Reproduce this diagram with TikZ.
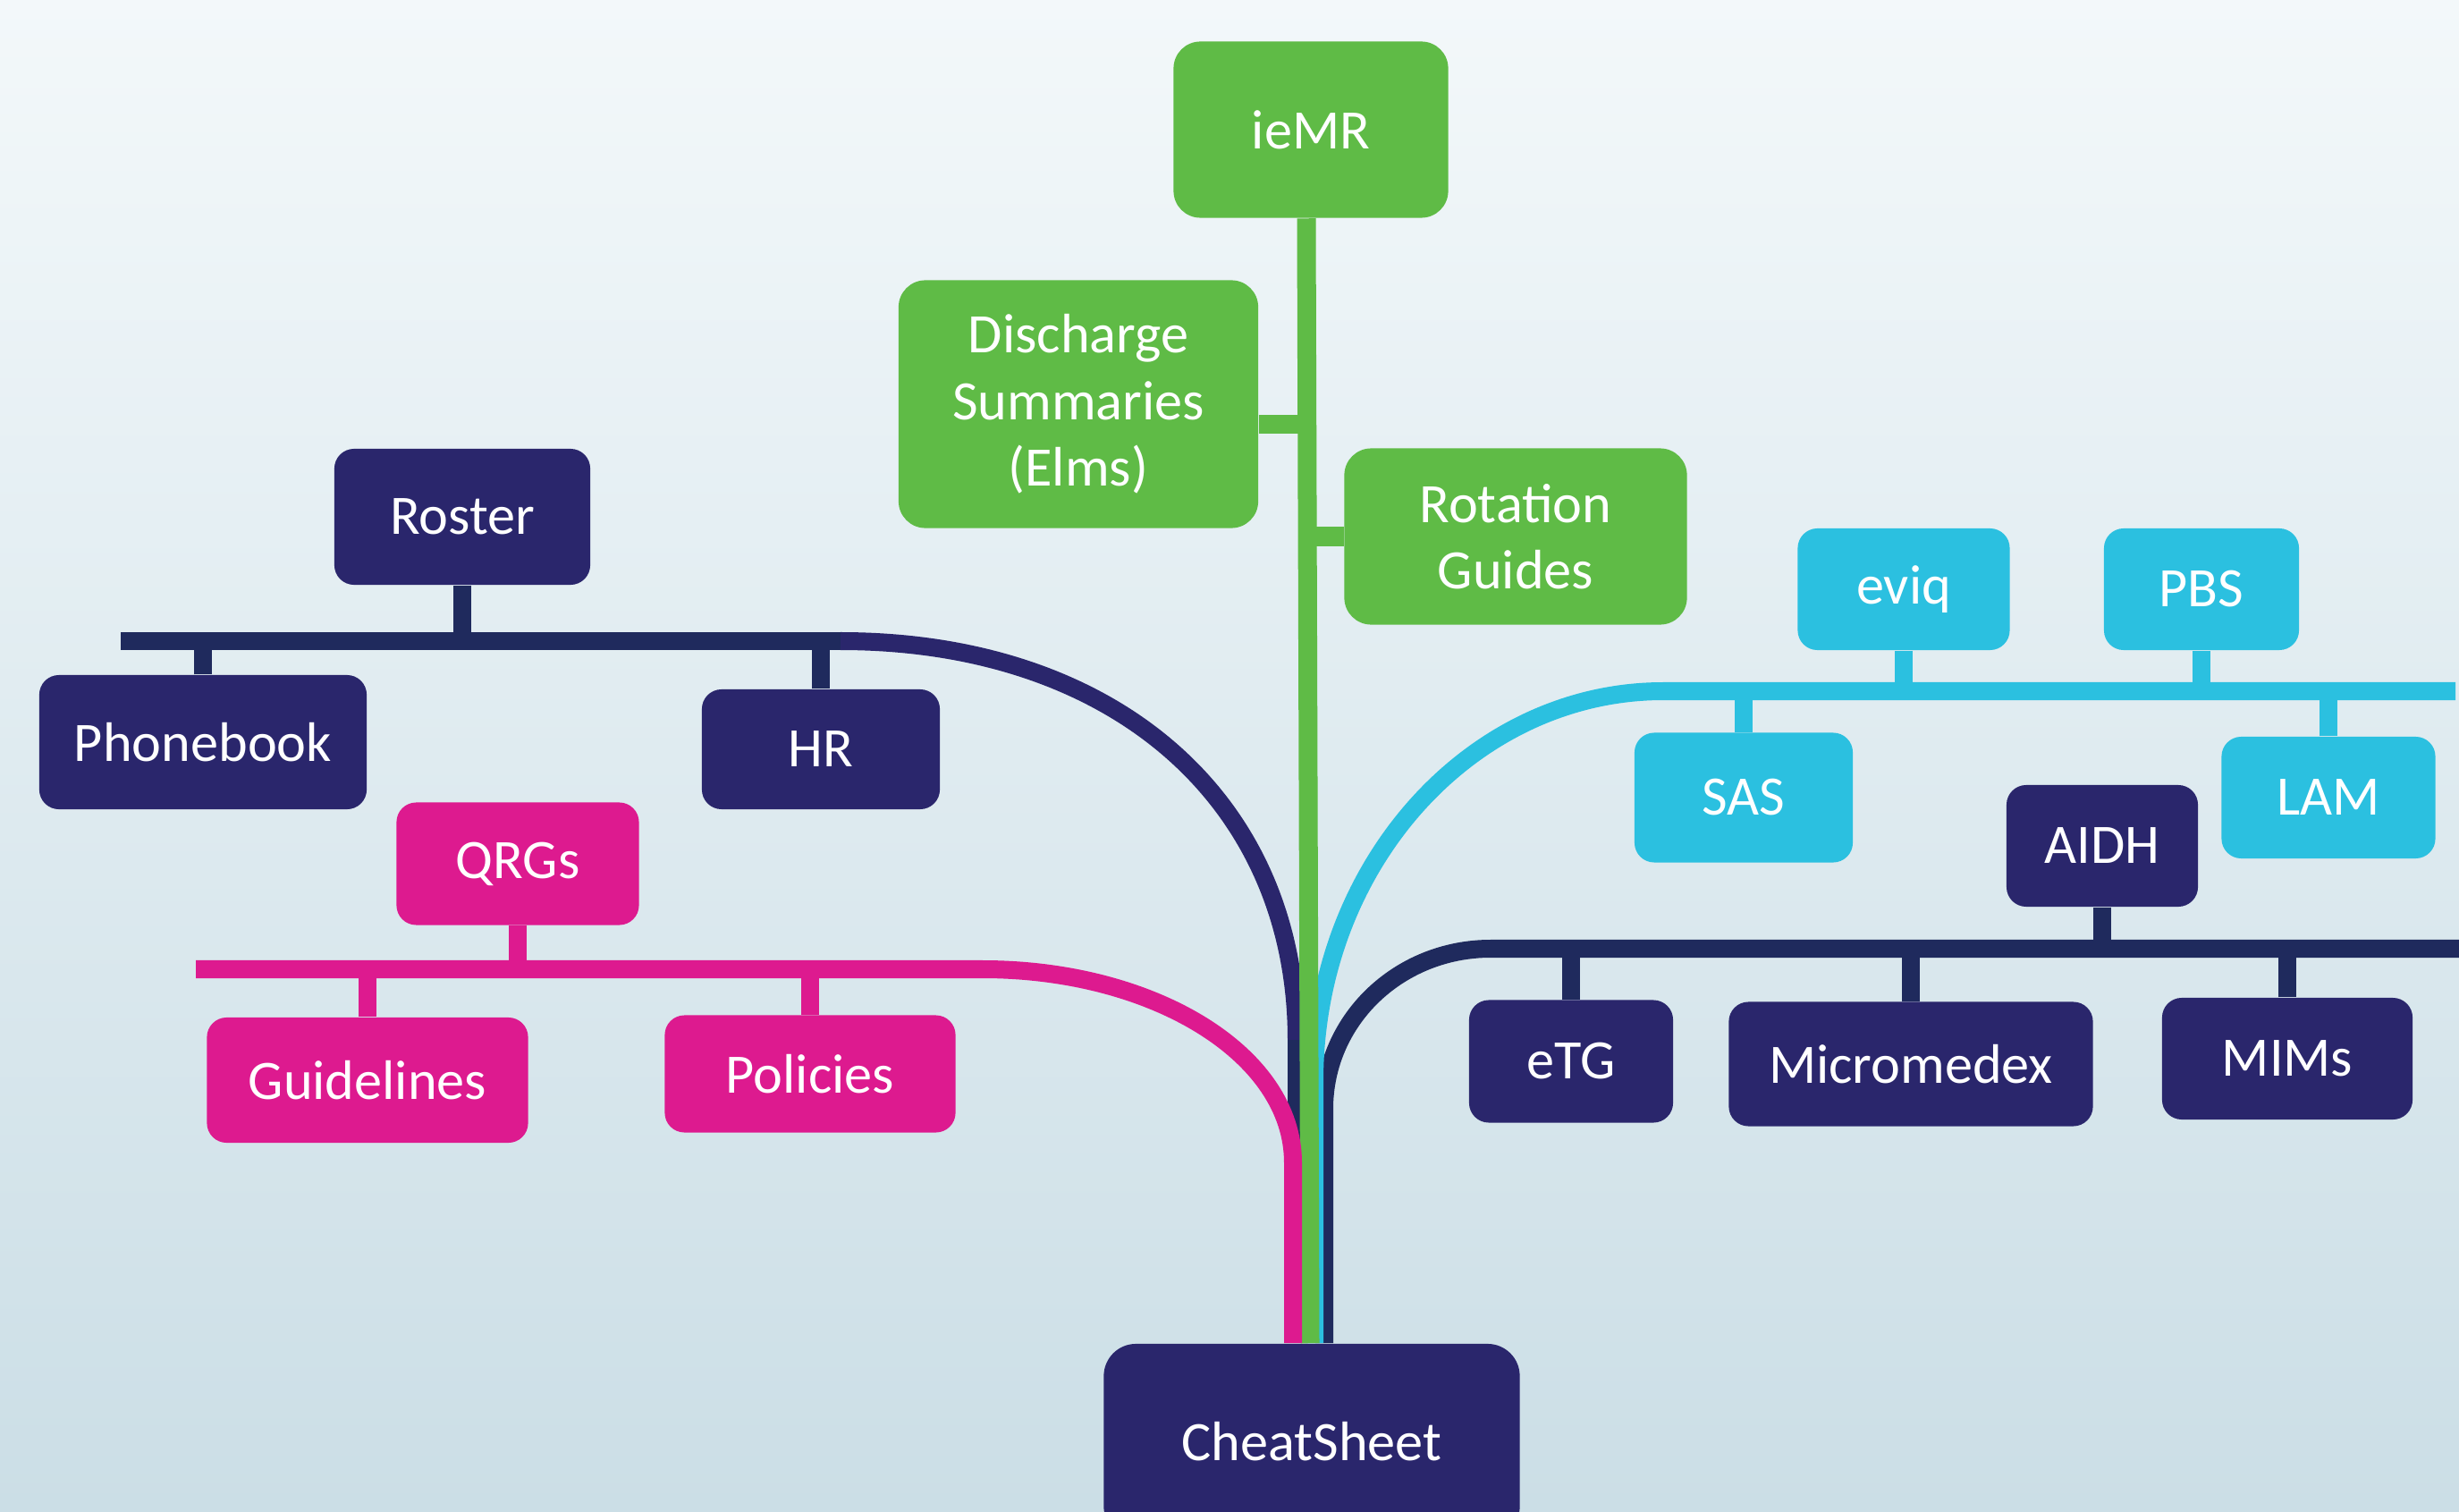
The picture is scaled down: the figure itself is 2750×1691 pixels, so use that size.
\documentclass[tikz,border=0pt]{standalone}
\usepackage{fontspec}
\setmainfont{Carlito}
\usepackage{tikz}
\usetikzlibrary{arrows,shapes}
\definecolor{cNavy}{HTML}{2A266C}
\definecolor{cNavyLine}{HTML}{1F2A5D}
\definecolor{cGreen}{HTML}{5FBB46}
\definecolor{cCyan}{HTML}{2BC0E0}
\definecolor{cPink}{HTML}{DD1A8F}
\definecolor{cBgTop}{HTML}{F3F8FA}
\definecolor{cBgBot}{HTML}{CBDEE6}

\begin{document}
\begin{tikzpicture}[x=0.01cm,y=-0.01cm,
  box/.style={rounded corners=0.22cm,inner sep=0pt,text=white,align=center,font=\fontsize{17.7}{21.2}\selectfont},
  navybox/.style={box,fill=cNavy},
  greenbox/.style={box,fill=cGreen,rounded corners=0.3cm},
  cyanbox/.style={box,fill=cCyan},
  pinkbox/.style={box,fill=cPink},
  navybar/.style={draw=cNavyLine,line width=0.2cm},
  greenbar/.style={draw=cGreen,line width=0.21cm},
  cyanbar/.style={draw=cCyan,line width=0.2cm},
  pinkbar/.style={draw=cPink,line width=0.2cm}]
\clip (0,0) rectangle (2750,1691);
\shade[top color=cBgTop,bottom color=cBgBot] (0,0) rectangle (2750,1691);

\node (ieMR) at (1466,145)[greenbox,minimum width=3.07cm,minimum height=1.97cm] {ieMR};
\node (Discharge) at (1206,452)[greenbox,minimum width=4.02cm,minimum height=2.77cm] {Discharge\\Summaries\\(Elms)};
\node (Rotation) at (1695,600)[greenbox,minimum width=3.83cm,minimum height=1.97cm] {Rotation\\Guides};
\node (Roster) at (517,578)[navybox,minimum width=2.86cm,minimum height=1.52cm] {Roster};
\node (Phonebook) at (227,830)[navybox,minimum width=3.66cm,minimum height=1.5cm] {Phonebook};
\node (HR) at (918,838)[navybox,minimum width=2.66cm,minimum height=1.34cm] {HR};
\node (QRGs) at (579,966)[pinkbox,minimum width=2.71cm,minimum height=1.37cm] {QRGs};
\node (Guidelines) at (411,1208)[pinkbox,minimum width=3.59cm,minimum height=1.4cm] {Guidelines};
\node (Policies) at (906,1201)[pinkbox,minimum width=3.25cm,minimum height=1.31cm] {Policies};
\node (eviq) at (2129,659)[cyanbox,minimum width=2.37cm,minimum height=1.36cm] {eviq};
\node (PBS) at (2462,659)[cyanbox,minimum width=2.18cm,minimum height=1.36cm] {PBS};
\node (SAS) at (1950,892)[cyanbox,minimum width=2.44cm,minimum height=1.45cm] {SAS};
\node (LAM) at (2604,892)[cyanbox,minimum width=2.39cm,minimum height=1.36cm] {LAM};
\node (AIDH) at (2351,946)[navybox,minimum width=2.14cm,minimum height=1.36cm] {AIDH};
\node (eTG) at (1757,1187)[navybox,minimum width=2.28cm,minimum height=1.37cm] {eTG};
\node (Micromedex) at (2137,1190)[navybox,minimum width=4.07cm,minimum height=1.39cm] {Micromedex};
\node (MIMs) at (2558,1184)[navybox,minimum width=2.8cm,minimum height=1.36cm] {MIMs};
\node (CheatSheet) at (1467,1612)[navybox,rounded corners=0.36cm,minimum width=4.65cm,minimum height=2.18cm] {CheatSheet};

\coordinate (navyL) at (135,717);
\coordinate (navyM) at (940,717);
\coordinate (navyD) at (1450,1163);
\coordinate (pinkL) at (219,1084);
\coordinate (pinkM) at (1099,1084);
\coordinate (pinkD) at (1446,1300);
\coordinate (cyanR) at (2746,773);
\coordinate (cyanM) at (1860,773);
\coordinate (cyanD) at (1470,1209);
\coordinate (navyR) at (2750,1061);
\coordinate (navyN) at (1667,1061);
\coordinate (navyE) at (1481,1240);
\coordinate (dsStub) at ([yshift=-0.22cm]Discharge.east);

\draw[navybar] (Roster.south) -- (Roster.south |- navyL);
\draw[navybar] (Phonebook.north) -- (Phonebook.north |- navyL);
\draw[navybar] (HR.north) -- (HR.north |- navyL);
\draw[navybar] (navyL) -- (navyM);
\draw[navybar,draw=cNavy] (navyM) .. controls (1246,717) and (1450,895) .. (navyD);
\draw[navybar] (navyD) -- (navyD |- CheatSheet.north);

\draw[navybar] (AIDH.south) -- (AIDH.south |- navyR);
\draw[navybar] (eTG.north) -- (eTG.north |- navyR);
\draw[navybar] (Micromedex.north) -- (Micromedex.north |- navyR);
\draw[navybar] (MIMs.north) -- (MIMs.north |- navyR);
\draw[navybar] (navyR) -- (navyN) .. controls (1564,1061) and (1481,1141) .. (navyE) -- (navyE |- CheatSheet.north);

\draw[cyanbar] (eviq.south) -- (eviq.south |- cyanR);
\draw[cyanbar] (PBS.south) -- (PBS.south |- cyanR);
\draw[cyanbar] (SAS.north) -- (SAS.north |- cyanR);
\draw[cyanbar] (LAM.north) -- (LAM.north |- cyanR);
\draw[cyanbar] (cyanR) -- (cyanM) .. controls (1645,773) and (1470,968) .. (cyanD) -- (cyanD |- CheatSheet.north);

\draw[greenbar] (dsStub) -- (dsStub -| ieMR.south);
\draw[greenbar] (Rotation.west) -- (Rotation.west -| ieMR.south);
\draw[greenbar] ([xshift=-0.05cm]ieMR.south) -- ([xshift=-0.02cm]CheatSheet.north);

\draw[pinkbar] (QRGs.south) -- (QRGs.south |- pinkL);
\draw[pinkbar] (Guidelines.north) -- (Guidelines.north |- pinkL);
\draw[pinkbar] (Policies.north) -- (Policies.north |- pinkL);
\draw[pinkbar] (pinkL) -- (pinkM) .. controls (1291,1084) and (1446,1180) .. (pinkD) -- (pinkD |- CheatSheet.north);
\end{tikzpicture}
\end{document}
